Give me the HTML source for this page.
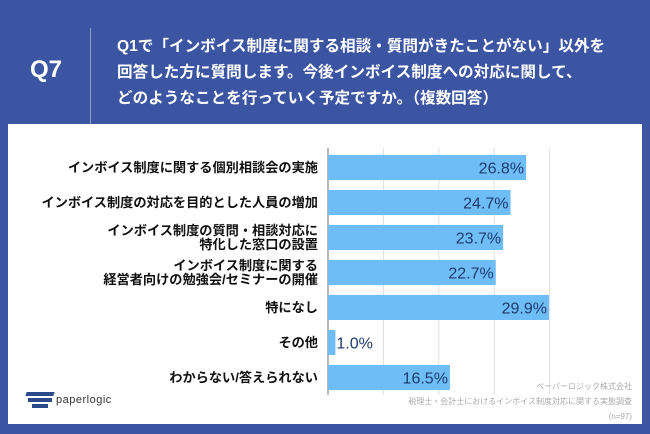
<!DOCTYPE html>
<html><head><meta charset="utf-8"><style>
body{margin:0;width:650px;height:434px;background:#3b55a2;font-family:"Liberation Sans","Noto Sans CJK JP",sans-serif;position:relative;overflow:hidden}
.q7{position:absolute;left:30px;top:56px;color:#fff;font-size:24px;font-weight:bold}
.div{position:absolute;left:90px;top:28px;width:1px;height:104px;background:#8d9dcc}
.qt{position:absolute;left:117px;top:34px;color:#fff;font-size:15.6px;font-weight:bold;line-height:26px;font-family:"Liberation Sans","Noto Sans CJK JP",sans-serif}
.panel{position:absolute;left:8px;top:124px;width:634px;height:300px;background:#fff}
</style></head><body>
<div class="q7">Q7</div>
<div class="div"></div>
<div class="qt">Q1で「インボイス制度に関する相談・質問がきたことがない」以外を<br>回答した方に質問します。今後インボイス制度への対応に関して、<br>どのようなことを行っていく予定ですか。（複数回答）</div>
<div class="panel"></div>
<svg id="c" width="650" height="434" style="position:absolute;left:0;top:0"></svg>
<script>
const categories=[["インボイス制度に関する個別相談会の実施"],["インボイス制度の対応を目的とした人員の増加"],["インボイス制度の質問・相談対応に","特化した窓口の設置"],["インボイス制度に関する","経営者向けの勉強会/セミナーの開催"],["特になし"],["その他"],["わからない/答えられない"]];
const values=[26.8,24.7,23.7,22.7,29.9,1.0,16.5];
const gridTicks=[0,7.5,15,22.5,30];
const NS="http://www.w3.org/2000/svg";
const svg=document.getElementById('c');
const x0=328,pxPer=7.39,y0=155,step=35,bh=25;
const xs=v=>x0+v*pxPer, ys=i=>y0+i*step;
function mk(t,a){const e=document.createElementNS(NS,t);for(const k in a)e.setAttribute(k,a[k]);svg.appendChild(e);return e;}
gridTicks.forEach((t,i)=>{const l=mk('line',{x1:xs(t),x2:xs(t),y1:148,y2:395,stroke:i?'#e0e0e0':'#888','stroke-width':i?1:1.2});

});
values.forEach((v,i)=>{
const r=mk('rect',{x:x0,y:ys(i),width:v*pxPer,height:bh,fill:'#6ebdf7'});


const tv=mk('text',{x:v<5?xs(v)+1:xs(v)-2,y:ys(i)+18.5,'text-anchor':v<5?'start':'end','font-size':16,fill:'#1e3a6e'});
tv.textContent=v.toFixed(1)+'%';


const lines=categories[i];
lines.forEach((s,j)=>{const t=mk('text',{x:318,y:ys(i)+17+(lines.length>1?(j-0.5)*14:0),'text-anchor':'end','font-size':13.2,'font-weight':'bold',fill:'#111'});
t.textContent=s;

});
});
</script>
<div style="position:absolute;right:18px;top:379px;text-align:right;font-size:8px;color:#aaa;line-height:15px">ペーパーロジック株式会社<br>税理士・会計士におけるインボイス制度対応に関する実態調査<br>(n=97)</div>
<div style="position:absolute;left:26px;top:388px;width:30px;height:20px">
<div style="position:absolute;left:0;top:4px;width:28px;height:4px;background:#2a4a8a;transform:skewX(-20deg)"></div>
<div style="position:absolute;left:2px;top:10px;width:24px;height:4px;background:#2a4a8a"></div>
<div style="position:absolute;left:6px;top:16px;width:16px;height:4px;background:#2a4a8a"></div></div>
<div style="position:absolute;left:56px;top:394px;font-size:11px;color:#333;letter-spacing:0.5px">paperlogic</div>
</body></html>
